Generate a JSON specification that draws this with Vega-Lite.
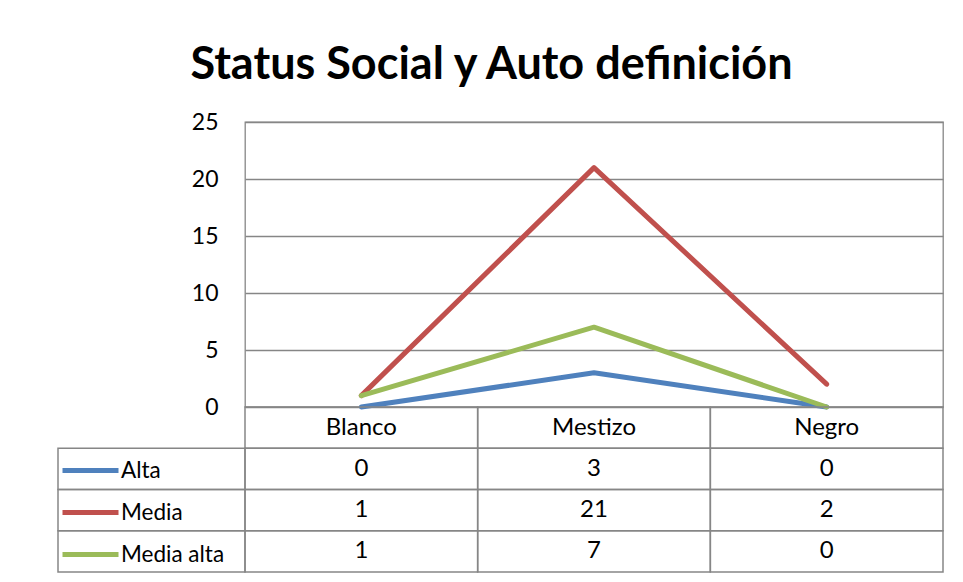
{
  "$schema": "https://vega.github.io/schema/vega-lite/v6.json",
  "background": "white",
  "padding": {"left": 57, "top": 43, "right": 21, "bottom": 10},
  "title": {"text": "Status Social y Auto definición", "fontSize": 45, "font": "Lato", "fontWeight": "bold", "color": "black", "anchor": "middle", "offset": 22, "dx": -9},
  "config": {"font": "Lato", "view": {"stroke": null}},
  "datasets": {
    "d": [
      {"cat": "Blanco", "series": "Alta", "value": 0},
      {"cat": "Mestizo", "series": "Alta", "value": 3},
      {"cat": "Negro", "series": "Alta", "value": 0},
      {"cat": "Blanco", "series": "Media", "value": 1},
      {"cat": "Mestizo", "series": "Media", "value": 21},
      {"cat": "Negro", "series": "Media", "value": 2},
      {"cat": "Blanco", "series": "Media alta", "value": 1},
      {"cat": "Mestizo", "series": "Media alta", "value": 7},
      {"cat": "Negro", "series": "Media alta", "value": 0}
    ]
  },
  "columns": 2,
  "spacing": 0,
  "bounds": "flush",
  "resolve": {"scale": {"x": "independent", "y": "independent"}},
  "concat": [
    {
      "width": 187, "height": 285,
      "data": {"values": [{}]},
      "mark": {"type": "text", "text": ""},
      "encoding": {}
    },
    {
      "width": 698, "height": 285,
      "data": {"name": "d"},
      "view": {"stroke": "#868686", "strokeWidth": 1.3},
      "mark": {"type": "line", "strokeWidth": 5, "strokeCap": "round", "strokeJoin": "round"},
      "encoding": {
        "x": {"field": "cat", "type": "nominal", "sort": ["Blanco", "Mestizo", "Negro"], "scale": {"type": "point", "padding": 0.5}, "axis": null},
        "y": {"field": "value", "type": "quantitative", "scale": {"domain": [0, 25]},
          "axis": {"values": [0, 5, 10, 15, 20, 25], "grid": true, "gridColor": "#868686", "gridWidth": 1.3, "domain": false, "ticks": false, "labelFontSize": 23, "labelColor": "black", "labelPadding": 27, "title": null}},
        "color": {"field": "series", "type": "nominal",
          "scale": {"domain": ["Alta", "Media", "Media alta"], "range": ["#4F81BD", "#C0504D", "#9BBB59"]},
          "legend": {"orient": "none", "legendX": 2, "legendY": 318, "title": null, "symbolType": "stroke", "symbolSize": 3136, "symbolStrokeWidth": 5, "labelFontSize": 22.5, "labelColor": "black", "labelOffset": 0, "rowPadding": 0, "padding": 0}}
      }
    },
    {
      "width": 187, "height": 165,
      "data": {"name": "d"},
      "transform": [{"filter": "datum.cat === 'Blanco'"}],
      "mark": {"type": "rect", "fillOpacity": 0, "stroke": "#868686", "strokeWidth": 1.5},
      "encoding": {
        "y": {"field": "series", "type": "nominal", "scale": {"domain": ["h", "Alta", "Media", "Media alta"], "paddingInner": 0, "paddingOuter": 0}, "axis": null}
      }
    },
    {
      "width": 698, "height": 165,
      "data": {"name": "d"},
      "encoding": {
        "x": {"field": "cat", "type": "nominal", "sort": ["Blanco", "Mestizo", "Negro"], "scale": {"type": "band", "paddingInner": 0, "paddingOuter": 0}, "axis": null}
      },
      "layer": [
        {
          "mark": {"type": "rect", "fillOpacity": 0, "stroke": "#868686", "strokeWidth": 1.5},
          "encoding": {"y": {"field": "series", "type": "nominal", "scale": {"domain": ["h", "Alta", "Media", "Media alta"], "paddingInner": 0, "paddingOuter": 0}, "axis": null}}
        },
        {
          "transform": [{"filter": "datum.series === 'Alta'"}],
          "mark": {"type": "rect", "fillOpacity": 0, "stroke": "#868686", "strokeWidth": 1.5},
          "encoding": {"y": {"datum": "h", "type": "nominal"}}
        },
        {
          "mark": {"type": "text", "fontSize": 24, "color": "black"},
          "encoding": {"y": {"field": "series", "type": "nominal"}, "text": {"field": "value", "type": "quantitative"}}
        },
        {
          "transform": [{"filter": "datum.series === 'Alta'"}],
          "mark": {"type": "text", "fontSize": 24, "color": "black"},
          "encoding": {"y": {"datum": "h", "type": "nominal"}, "text": {"field": "cat", "type": "nominal"}}
        }
      ]
    }
  ]
}
